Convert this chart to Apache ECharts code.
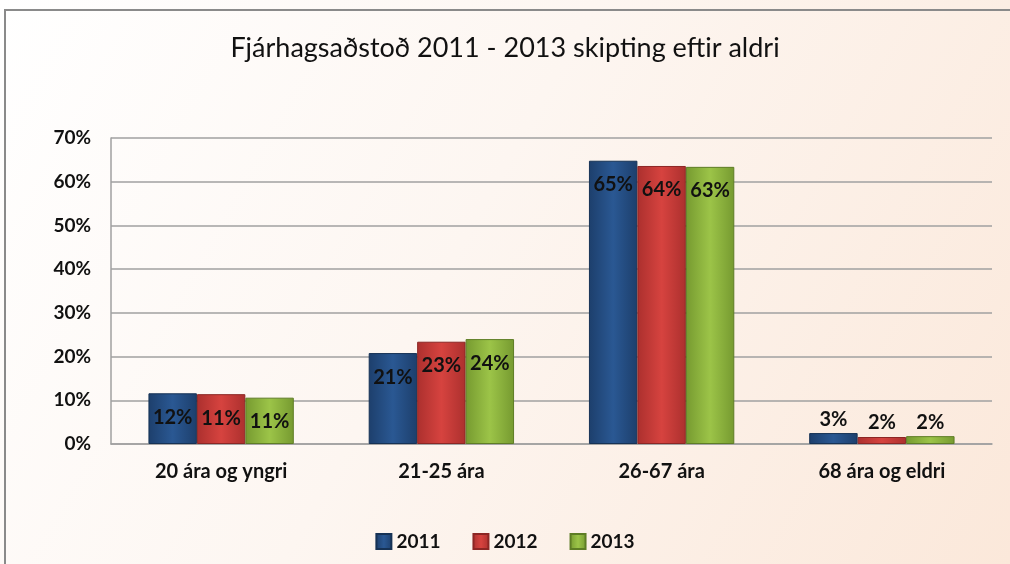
<!DOCTYPE html>
<html>
<head>
<meta charset="utf-8">
<script src="https://cdn.jsdelivr.net/npm/echarts@6/dist/echarts.min.js"></script>
<style>
    html, body { margin: 0; padding: 0; background: #fff; }
    #chart01 { width: 1010px; height: 564px; }
</style>
</head>
<body>
<div id="chart01"></div>
<script>
// gögn
var categories = ['20 ára og yngri', '21-25 ára', '26-67 ára', '68 ára og eldri'];
var years = ['2011', '2012', '2013'];
var val2011 = [11.6, 20.8, 64.8, 2.5];
var val2012 = [11.4, 23.4, 63.6, 1.6];
var val2013 = [10.6, 24.0, 63.4, 1.8];
var yTicks = [0, 10, 20, 30, 40, 50, 60, 70];

var FONT = 'Lato';

function barColor(edge, mid) {
    return {
        type: 'linear', x: 0, y: 0, x2: 1, y2: 0,
        colorStops: [
            {offset: 0, color: edge},
            {offset: 0.5, color: mid},
            {offset: 1, color: edge}
        ]
    };
}
var colors = [
    barColor('#1d3f6c', '#2a5893'),
    barColor('#ac302e', '#d6433f'),
    barColor('#769a30', '#9cc448')
];
var borders = ['#163255', '#8c2624', '#5e7d25'];

function makeData(vals) {
    return vals.map(function (v) {
        if (v < 5) {
            return {value: v, label: {position: 'top', distance: 4}};
        }
        return {value: v};
    });
}

function makeSeries(name, vals, i) {
    return {
        name: name,
        type: 'bar',
        barGap: '0%',
        barCategoryGap: '34%',
        data: makeData(vals),
        itemStyle: {
            color: colors[i],
            borderColor: borders[i],
            borderWidth: 1
        },
        label: {
            show: true,
            position: 'insideTop',
            distance: 14,
            color: '#111',
            fontFamily: FONT,
            fontWeight: 'bold',
            fontSize: 20,
            formatter: function (p) {
                return Math.round(p.value) + '%';
            }
        }
    };
}

var myChart = echarts.init(document.getElementById('chart01'));
var option = {
    animation: false,
    backgroundColor: {
        type: 'linear', x: 0, y: 0, x2: 1, y2: 1,
        colorStops: [
            {offset: 0, color: '#ffffff'},
            {offset: 0.45, color: '#fdf6f1'},
            {offset: 1, color: '#fbe8da'}
        ]
    },
    color: ['#254f86', '#d0413e', '#8fb73d'],
    title: {
        text: 'Fjárhagsaðstoð 2011 - 2013 skipting eftir aldri',
        left: 'center',
        top: 30,
        textStyle: {
            fontFamily: FONT,
            fontSize: 27,
            fontWeight: 'normal',
            color: '#111'
        }
    },
    legend: {
        data: years,
        left: 'center',
        top: 527,
        itemWidth: 15,
        itemHeight: 15,
        itemGap: 32,
        icon: 'rect',
        textStyle: {
            fontFamily: FONT,
            fontSize: 19,
            fontWeight: 'bold',
            color: '#111'
        }
    },
    grid: {
        left: 111,
        right: 18,
        top: 138,
        bottom: 120
    },
    xAxis: {
        type: 'category',
        data: categories,
        axisTick: {show: false},
        axisLine: {show: true, lineStyle: {color: '#a0a0a0', width: 1.5}},
        axisLabel: {
            margin: 18,
            fontFamily: FONT,
            fontSize: 20,
            fontWeight: 'bold',
            color: '#111'
        }
    },
    yAxis: {
        type: 'value',
        min: yTicks[0],
        max: yTicks[yTicks.length - 1],
        interval: 10,
        axisLine: {show: true, lineStyle: {color: '#a0a0a0', width: 1.5}},
        axisTick: {show: false},
        splitLine: {lineStyle: {color: '#a0a0a0', width: 1.5}},
        axisLabel: {
            margin: 20,
            fontFamily: FONT,
            fontSize: 19,
            fontWeight: 'bold',
            color: '#111',
            formatter: '{value}%'
        }
    },
    // ramminn (aðeins efri og vinstri brún sjást)
    graphic: [{
        type: 'polyline',
        shape: {points: [[5, 564], [5, 10], [1010, 10]]},
        style: {fill: null, stroke: '#8a8a8a', lineWidth: 2},
        silent: true
    }],
    series: [
        makeSeries(years[0], val2011, 0),
        makeSeries(years[1], val2012, 1),
        makeSeries(years[2], val2013, 2)
    ]
};
myChart.setOption(option);
</script>
</body>
</html>
